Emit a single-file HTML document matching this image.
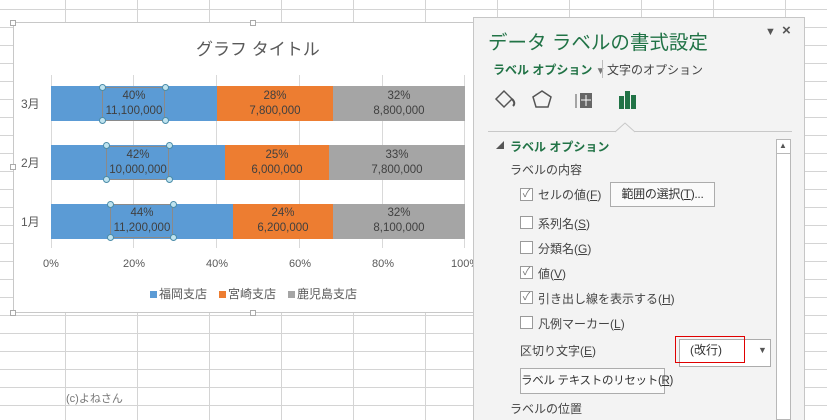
<!DOCTYPE html>
<html><head><meta charset="utf-8"><style>
*{margin:0;padding:0;box-sizing:border-box}
body{width:827px;height:420px;overflow:hidden;position:relative;font-family:"Liberation Sans","Noto Sans CJK JP",sans-serif;background:#fff;
background-image:linear-gradient(to right,#d4d4d4 1px,transparent 1px),linear-gradient(to bottom,#d4d4d4 1px,transparent 1px);
background-size:72px 18px;background-position:65px 9px}
.a{position:absolute;white-space:nowrap}
#chart{position:absolute;left:13px;top:22px;width:461px;height:291px;background:#fff;border:1px solid #c8c8c8}
.h{position:absolute;width:6px;height:6px;border:1px solid #aaa;background:#fff}
.grid{position:absolute;top:75px;width:1px;height:173px;background:#d9d9d9}
.bar{position:absolute;height:35px}
.lbl{position:absolute;text-align:center;font-size:11.5px;color:#404040;line-height:15px;white-space:nowrap}
.sel{position:absolute;border:1px solid #8a8a8a}
.dot{position:absolute;width:7px;height:7px;border-radius:50%;background:#bfe3ef;border:1px solid #4a8ca8}
#panel{position:absolute;left:473px;top:17px;width:332px;height:403px;background:#f3f3f3;border:1px solid #c6c6c6;border-bottom:none}
.p{position:absolute;font-size:12px;color:#444;white-space:nowrap}
.cb{position:absolute;width:13px;height:13px;border:1px solid #9a9a9a;background:#fff;font-size:11px;line-height:11px;color:#777;text-align:center}
.btn{position:absolute;border:1px solid #acacac;background:#fafafa;font-size:12px;color:#333;text-align:center;white-space:nowrap;letter-spacing:-0.3px}
</style></head><body>
<div id="chart"></div>
<div class="h" style="left:10px;top:20px"></div><div class="h" style="left:250px;top:20px"></div>
<div class="h" style="left:10px;top:164px"></div>
<div class="h" style="left:10px;top:310px"></div><div class="h" style="left:250px;top:310px"></div>
<div class="a" style="left:196px;top:35px;font-size:17px;color:#595959">グラフ タイトル</div>
<div class="grid" style="left:51px"></div><div class="grid" style="left:133px"></div><div class="grid" style="left:216px"></div><div class="grid" style="left:299px"></div><div class="grid" style="left:382px"></div><div class="grid" style="left:464px"></div>
<div class="a" style="left:21px;top:95px;font-size:12px;color:#595959">3月</div>
<div class="a" style="left:21px;top:154px;font-size:12px;color:#595959">2月</div>
<div class="a" style="left:21px;top:213px;font-size:12px;color:#595959">1月</div>
<div class="bar" style="left:51px;top:86px;width:166px;background:#5b9bd5"></div>
<div class="bar" style="left:217px;top:86px;width:116px;background:#ed7d31"></div>
<div class="bar" style="left:333px;top:86px;width:132px;background:#a5a5a5"></div>
<div class="bar" style="left:51px;top:145px;width:174px;background:#5b9bd5"></div>
<div class="bar" style="left:225px;top:145px;width:104px;background:#ed7d31"></div>
<div class="bar" style="left:329px;top:145px;width:136px;background:#a5a5a5"></div>
<div class="bar" style="left:51px;top:204px;width:182px;background:#5b9bd5"></div>
<div class="bar" style="left:233px;top:204px;width:100px;background:#ed7d31"></div>
<div class="bar" style="left:333px;top:204px;width:132px;background:#a5a5a5"></div>
<div class="sel" style="left:102px;top:87px;width:63px;height:34px"></div>
<div class="sel" style="left:106px;top:146px;width:63px;height:34px"></div>
<div class="sel" style="left:110px;top:204px;width:63px;height:34px"></div>
<div class="dot" style="left:99px;top:84px"></div><div class="dot" style="left:162px;top:84px"></div><div class="dot" style="left:99px;top:117px"></div><div class="dot" style="left:162px;top:117px"></div>
<div class="dot" style="left:103px;top:142px"></div><div class="dot" style="left:166px;top:142px"></div><div class="dot" style="left:103px;top:176px"></div><div class="dot" style="left:166px;top:176px"></div>
<div class="dot" style="left:107px;top:201px"></div><div class="dot" style="left:170px;top:201px"></div><div class="dot" style="left:107px;top:234px"></div><div class="dot" style="left:170px;top:234px"></div>
<div class="lbl" style="left:94px;top:89px;width:80px">40%<br>11,100,000</div>
<div class="lbl" style="left:235px;top:89px;width:80px">28%<br>7,800,000</div>
<div class="lbl" style="left:359px;top:89px;width:80px">32%<br>8,800,000</div>
<div class="lbl" style="left:98px;top:148px;width:80px">42%<br>10,000,000</div>
<div class="lbl" style="left:237px;top:148px;width:80px">25%<br>6,000,000</div>
<div class="lbl" style="left:357px;top:148px;width:80px">33%<br>7,800,000</div>
<div class="lbl" style="left:102px;top:206px;width:80px">44%<br>11,200,000</div>
<div class="lbl" style="left:243px;top:206px;width:80px">24%<br>6,200,000</div>
<div class="lbl" style="left:359px;top:206px;width:80px">32%<br>8,100,000</div>
<div class="a" style="left:43px;top:258px;font-size:11px;color:#595959">0%</div>
<div class="a" style="left:123px;top:258px;font-size:11px;color:#595959">20%</div>
<div class="a" style="left:206px;top:258px;font-size:11px;color:#595959">40%</div>
<div class="a" style="left:289px;top:258px;font-size:11px;color:#595959">60%</div>
<div class="a" style="left:372px;top:258px;font-size:11px;color:#595959">80%</div>
<div class="a" style="left:451px;top:258px;font-size:11px;color:#595959">100%</div>
<div class="a" style="left:150px;top:285px;font-size:12px;color:#595959"><span style="display:inline-block;width:7px;height:7px;background:#5b9bd5;margin-right:2px"></span>福岡支店　<span style="display:inline-block;width:7px;height:7px;background:#ed7d31;margin-right:2px"></span>宮崎支店　<span style="display:inline-block;width:7px;height:7px;background:#a5a5a5;margin-right:2px"></span>鹿児島支店</div>
<div class="a" style="left:66px;top:390px;font-size:11px;color:#777">(c)よねさん</div>

<div id="panel"></div>
<div class="a" style="left:488px;top:26px;font-size:19.5px;color:#217346">データ ラベルの書式設定</div>
<div class="a" style="left:765px;top:26px;font-size:11px;color:#555">▼</div>
<div class="a" style="left:782px;top:22px;font-size:15px;color:#555;font-weight:bold">×</div>
<div class="a" style="left:493px;top:61px;font-size:12px;color:#217346;font-weight:bold">ラベル オプション <span style="color:#777;font-size:10px">▼</span></div>
<div class="a" style="left:602px;top:60px;width:1px;height:18px;background:#bbb"></div>
<div class="p" style="left:607px;top:61px">文字のオプション</div>
<svg class="a" style="left:490px;top:85px" width="150" height="50">
<path d="M6 14 L14 6 L22 14 L14 22 Z" fill="none" stroke="#555" stroke-width="1.5"/><path d="M22 14 q4 4 1 7" stroke="#555" fill="none" stroke-width="2"/>
<path d="M52 6 L61 12 L58 22 L46 22 L43 12 Z" fill="none" stroke="#555" stroke-width="1.5"/>
<rect x="90" y="8" width="12" height="15" fill="#666"/><path d="M86 9 v14" stroke="#555"/><path d="M96 10 v11 M91 15 h10" stroke="#fff"/>
<rect x="129" y="11" width="5" height="13" fill="#217346"/><rect x="135" y="6" width="5" height="18" fill="#217346"/><rect x="141" y="10" width="5" height="14" fill="#217346"/>
</svg>
<div class="a" style="left:488px;top:131px;width:304px;height:1px;background:#c8c8c8"></div>
<svg class="a" style="left:615px;top:122px" width="20" height="11"><path d="M0 10 L10 1 L20 10" fill="#f3f3f3" stroke="#c8c8c8"/></svg>
<div class="a" style="left:776px;top:139px;width:15px;height:281px;background:#fff;border:1px solid #b8b8b8"></div>
<div class="a" style="left:779px;top:141px;font-size:8px;color:#555">▲</div>
<div class="a" style="left:777px;top:153px;width:13px;height:1px;background:#b8b8b8"></div>
<div class="a" style="left:496px;top:140px;font-size:8px;color:#555">◢</div>
<div class="a" style="left:510px;top:138px;font-size:12px;color:#217346;font-weight:bold">ラベル オプション</div>
<div class="p" style="left:510px;top:161px">ラベルの内容</div>
<div class="cb" style="left:520px;top:188px">✓</div><div class="p" style="left:538px;top:186px">セルの値(<u>F</u>)</div>
<div class="btn" style="left:610px;top:182px;width:105px;height:25px;line-height:23px">範囲の選択(<u>T</u>)...</div>
<div class="cb" style="left:520px;top:216px"></div><div class="p" style="left:538px;top:215px">系列名(<u>S</u>)</div>
<div class="cb" style="left:520px;top:241px"></div><div class="p" style="left:538px;top:240px">分類名(<u>G</u>)</div>
<div class="cb" style="left:520px;top:266px">✓</div><div class="p" style="left:538px;top:265px">値(<u>V</u>)</div>
<div class="cb" style="left:520px;top:291px">✓</div><div class="p" style="left:538px;top:290px">引き出し線を表示する(<u>H</u>)</div>
<div class="cb" style="left:520px;top:316px"></div><div class="p" style="left:538px;top:315px">凡例マーカー(<u>L</u>)</div>
<div class="p" style="left:520px;top:342px">区切り文字(<u>E</u>)</div>
<div class="a" style="left:679px;top:339px;width:92px;height:28px;background:#fff;border:1px solid #acacac"></div>
<div class="a" style="left:758px;top:345px;font-size:9px;color:#555">▼</div>
<div class="a" style="left:675px;top:336px;width:70px;height:27px;border:1.5px solid #e00000"></div>
<div class="p" style="left:690px;top:341px;color:#333">(改行)</div>
<div class="btn" style="left:520px;top:368px;width:145px;height:26px;line-height:24px;font-size:11.5px">ラベル テキストのリセット(<u>R</u>)</div>
<div class="p" style="left:510px;top:400px">ラベルの位置</div>
</body></html>
